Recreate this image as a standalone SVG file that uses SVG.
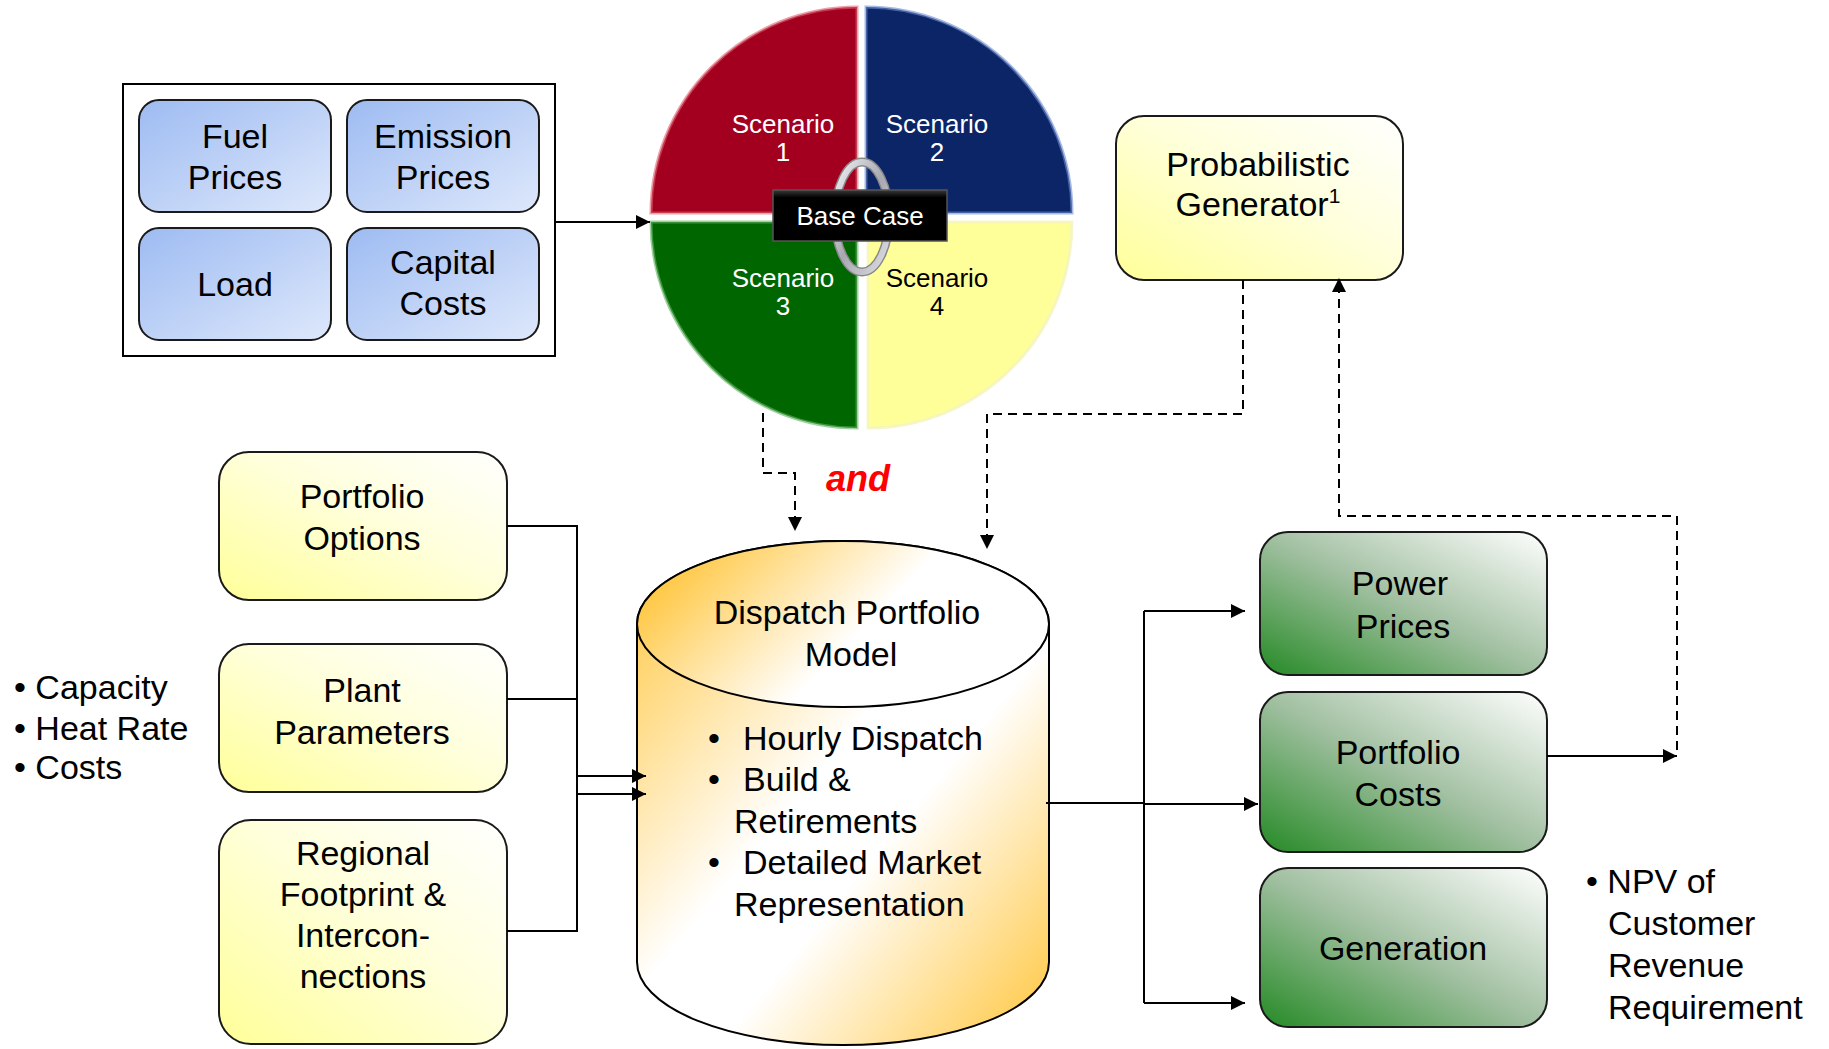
<svg xmlns="http://www.w3.org/2000/svg" width="1829" height="1049" viewBox="0 0 1829 1049">
<style>
  text { font-family: "Liberation Sans", Arial, sans-serif; }
  .t34 { font-size: 34px; fill: #000; text-anchor: middle; }
  .tl { font-size: 34px; fill: #000; }
  .scn { font-size: 26px; fill: #fff; text-anchor: middle; }
  .box { stroke: #1a1a1a; stroke-width: 2; }
  .conn { fill: none; stroke: #000; stroke-width: 2; }
  .dash { fill: none; stroke: #000; stroke-width: 2; stroke-dasharray: 9 6; }
</style>
<defs>
  <linearGradient id="gBlue" x1="0" y1="0" x2="1" y2="1">
    <stop offset="0" stop-color="#9DBBF2"/>
    <stop offset="1" stop-color="#DEE8FB"/>
  </linearGradient>
  <linearGradient id="gYellow" x1="0" y1="1" x2="1" y2="0">
    <stop offset="0" stop-color="#FFFF99"/>
    <stop offset="0.55" stop-color="#FFFFDC"/>
    <stop offset="1" stop-color="#FFFFFF"/>
  </linearGradient>
  <linearGradient id="gGreen" x1="0" y1="1" x2="1" y2="0">
    <stop offset="0" stop-color="#258A25"/>
    <stop offset="0.5" stop-color="#A2C0A2"/>
    <stop offset="1" stop-color="#FFFFFF"/>
  </linearGradient>
  <linearGradient id="gCylBody" x1="0" y1="0" x2="1" y2="1">
    <stop offset="0" stop-color="#FFC53A"/>
    <stop offset="0.45" stop-color="#FFFFFF"/>
    <stop offset="0.6" stop-color="#FFFFFF"/>
    <stop offset="1" stop-color="#FFC53A"/>
  </linearGradient>
  <linearGradient id="gCylTop" x1="0" y1="0.3" x2="1" y2="0.7">
    <stop offset="0" stop-color="#FFC53A"/>
    <stop offset="0.55" stop-color="#FFFFFF"/>
    <stop offset="1" stop-color="#FFFFFF"/>
  </linearGradient>
  <linearGradient id="gRing" x1="0" y1="0" x2="1" y2="1">
    <stop offset="0" stop-color="#F2F2F6"/>
    <stop offset="0.5" stop-color="#A8A8B2"/>
    <stop offset="1" stop-color="#E0E0E6"/>
  </linearGradient>
  <linearGradient id="gBase" x1="0" y1="0" x2="0" y2="1">
    <stop offset="0" stop-color="#3a3a3a"/>
    <stop offset="0.15" stop-color="#000"/>
    <stop offset="1" stop-color="#000"/>
  </linearGradient>
  <marker id="arrL" viewBox="0 0 10 10" refX="10" refY="5" markerWidth="14" markerHeight="14" markerUnits="userSpaceOnUse" orient="auto">
    <path d="M0,0 L10,5 L0,10 Z" fill="#000"/>
  </marker>
</defs>
<rect width="1829" height="1049" fill="#fff"/>

<!-- Inputs group -->
<g id="inputs">
  <rect x="123" y="84" width="432" height="272" fill="#fff" stroke="#000" stroke-width="2"/>
  <g id="fuel-prices">
    <rect class="box" x="139" y="100" width="192" height="112" rx="20" fill="url(#gBlue)"/>
    <text class="t34" x="235" y="148">Fuel</text>
    <text class="t34" x="235" y="189">Prices</text>
  </g>
  <g id="emission-prices">
    <rect class="box" x="347" y="100" width="192" height="112" rx="20" fill="url(#gBlue)"/>
    <text class="t34" x="443" y="148">Emission</text>
    <text class="t34" x="443" y="189">Prices</text>
  </g>
  <g id="load">
    <rect class="box" x="139" y="228" width="192" height="112" rx="20" fill="url(#gBlue)"/>
    <text class="t34" x="235" y="296">Load</text>
  </g>
  <g id="capital-costs">
    <rect class="box" x="347" y="228" width="192" height="112" rx="20" fill="url(#gBlue)"/>
    <text class="t34" x="443" y="274">Capital</text>
    <text class="t34" x="443" y="315">Costs</text>
  </g>
</g>

<!-- Scenario pie -->
<g id="scenarios">
  <path d="M857,213 L651,213 A206,206 0 0 1 857,7 Z" fill="#A3001F"/>
  <path d="M857,213 L651,213 A206,206 0 0 1 857,7 Z" fill="none" stroke="#E06070" stroke-opacity="0.6" stroke-width="3"/>
  <path d="M866,213 L866,7 A206,206 0 0 1 1072,213 Z" fill="#0C2566"/>
  <path d="M866,213 L866,7 A206,206 0 0 1 1072,213 Z" fill="none" stroke="#6C8CD0" stroke-opacity="0.6" stroke-width="3"/>
  <path d="M857,222 L857,428 A206,206 0 0 1 651,222 Z" fill="#006600"/>
  <path d="M857,222 L857,428 A206,206 0 0 1 651,222 Z" fill="none" stroke="#60B060" stroke-opacity="0.6" stroke-width="3"/>
  <path d="M868,222 L1072,222 A204,206 0 0 1 868,428 Z" fill="#FFFF99"/>
  <path d="M868,222 L1072,222 A204,206 0 0 1 868,428 Z" fill="none" stroke="#F4F4C0" stroke-opacity="0.8" stroke-width="3"/>
  <text class="scn" x="783" y="133">Scenario</text>
  <text class="scn" x="783" y="161">1</text>
  <text class="scn" x="937" y="133">Scenario</text>
  <text class="scn" x="937" y="161">2</text>
  <text class="scn" x="783" y="287">Scenario</text>
  <text class="scn" x="783" y="315">3</text>
  <text class="scn" x="937" y="287" style="fill:#000">Scenario</text>
  <text class="scn" x="937" y="315" style="fill:#000">4</text>
  <ellipse cx="862" cy="217" rx="27" ry="55" fill="none" stroke="#888" stroke-width="9"/>
  <ellipse cx="862" cy="217" rx="27" ry="55" fill="none" stroke="url(#gRing)" stroke-width="6"/>
  <g id="base-case">
    <rect x="773" y="190" width="174" height="51" fill="url(#gBase)" stroke="#555" stroke-width="1.5"/>
    <text class="scn" x="860" y="225">Base Case</text>
  </g>
</g>

<text x="858" y="491" text-anchor="middle" font-size="36" font-weight="bold" font-style="italic" fill="#FF0000" style="font-family:'Liberation Sans', Arial, sans-serif">and</text>

<!-- Probabilistic Generator -->
<g id="probabilistic-generator">
  <rect class="box" x="1116" y="116" width="287" height="164" rx="28" fill="url(#gYellow)"/>
  <text class="t34" x="1258" y="176">Probabilistic</text>
  <text class="t34" x="1258" y="216">Generator<tspan font-size="21" dy="-13">1</tspan></text>
</g>

<!-- Left inputs -->
<g id="portfolio-options">
  <rect class="box" x="219" y="452" width="288" height="148" rx="30" fill="url(#gYellow)"/>
  <text class="t34" x="362" y="508">Portfolio</text>
  <text class="t34" x="362" y="550">Options</text>
</g>
<g id="plant-parameters">
  <rect class="box" x="219" y="644" width="288" height="148" rx="30" fill="url(#gYellow)"/>
  <text class="t34" x="362" y="702">Plant</text>
  <text class="t34" x="362" y="744">Parameters</text>
</g>
<g id="regional-footprint">
  <rect class="box" x="219" y="820" width="288" height="224" rx="32" fill="url(#gYellow)"/>
  <text class="t34" x="363" y="865">Regional</text>
  <text class="t34" x="363" y="906">Footprint &amp;</text>
  <text class="t34" x="363" y="947">Intercon-</text>
  <text class="t34" x="363" y="988">nections</text>
</g>
<g id="plant-notes">
  <text class="tl" x="14" y="699">• Capacity</text>
  <text class="tl" x="14" y="740">• Heat Rate</text>
  <text class="tl" x="14" y="779">• Costs</text>
</g>

<!-- Dispatch cylinder -->
<g id="dispatch-model">
  <path d="M637,624 V962 A206,83 0 0 0 1049,962 V624 A206,83 0 0 0 637,624 Z" fill="url(#gCylBody)" stroke="#000" stroke-width="2"/>
  <ellipse cx="843" cy="624" rx="206" ry="83" fill="url(#gCylTop)" stroke="#000" stroke-width="2"/>
  <text class="t34" x="847" y="624">Dispatch Portfolio</text>
  <text class="t34" x="851" y="666">Model</text>
  <text class="tl" x="708" y="750">•</text>
  <text class="tl" x="743" y="750">Hourly Dispatch</text>
  <text class="tl" x="708" y="791">•</text>
  <text class="tl" x="743" y="791">Build &amp;</text>
  <text class="tl" x="734" y="833">Retirements</text>
  <text class="tl" x="708" y="874">•</text>
  <text class="tl" x="743" y="874">Detailed Market</text>
  <text class="tl" x="734" y="916">Representation</text>
</g>

<!-- Outputs -->
<g id="power-prices">
  <rect class="box" x="1260" y="532" width="287" height="143" rx="28" fill="url(#gGreen)"/>
  <text class="t34" x="1400" y="595">Power</text>
  <text class="t34" x="1403" y="638">Prices</text>
</g>
<g id="portfolio-costs">
  <rect class="box" x="1260" y="692" width="287" height="160" rx="28" fill="url(#gGreen)"/>
  <text class="t34" x="1398" y="764">Portfolio</text>
  <text class="t34" x="1398" y="806">Costs</text>
</g>
<g id="generation">
  <rect class="box" x="1260" y="868" width="287" height="159" rx="28" fill="url(#gGreen)"/>
  <text class="t34" x="1403" y="960">Generation</text>
</g>
<g id="npv-notes">
  <text class="tl" x="1586" y="893">• NPV of</text>
  <text class="tl" x="1608" y="935">Customer</text>
  <text class="tl" x="1608" y="977">Revenue</text>
  <text class="tl" x="1608" y="1019">Requirement</text>
</g>

<!-- Connectors -->
<g id="connectors">
  <path class="conn" d="M555,222 H650" marker-end="url(#arrL)"/>
  <path class="dash" d="M763,413 V473 H795 V531" marker-end="url(#arrL)"/>
  <path class="dash" d="M1243,280 V414 H987 V549" marker-end="url(#arrL)"/>
  <path class="conn" d="M507,526 H577 V931 H507"/>
  <path class="conn" d="M507,699 H577"/>
  <path class="conn" d="M577,776 H646" marker-end="url(#arrL)"/>
  <path class="conn" d="M577,794 H646" marker-end="url(#arrL)"/>
  <path class="conn" d="M1046,803 H1144"/>
  <path class="conn" d="M1144,611 V1003"/>
  <path class="conn" d="M1144,611 H1245" marker-end="url(#arrL)"/>
  <path class="conn" d="M1144,804 H1258" marker-end="url(#arrL)"/>
  <path class="conn" d="M1144,1003 H1245" marker-end="url(#arrL)"/>
  <path class="conn" d="M1547,756 H1677" marker-end="url(#arrL)"/>
  <path class="dash" d="M1677,750 V516 H1339 V278" marker-end="url(#arrL)"/>
</g>
</svg>
